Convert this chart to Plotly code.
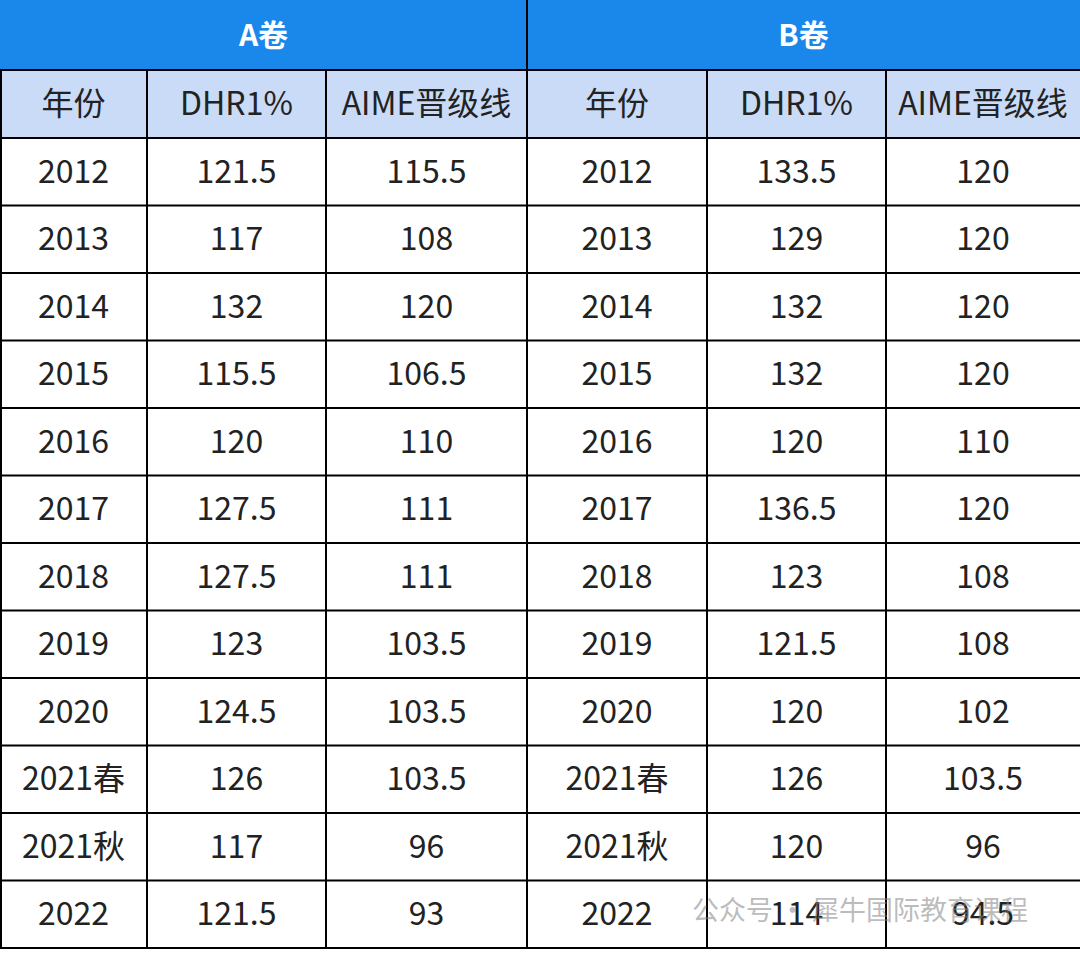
import plotly.graph_objects as go

groups = ["A卷", "B卷"]
col_headers = ["年份", "DHR1%", "AIME晋级线", "年份", "DHR1%", "AIME晋级线"]
years = ["2012", "2013", "2014", "2015", "2016", "2017", "2018", "2019", "2020", "2021春", "2021秋", "2022"]
a_dhr = ["121.5", "117", "132", "115.5", "120", "127.5", "127.5", "123", "124.5", "126", "117", "121.5"]
a_aime = ["115.5", "108", "120", "106.5", "110", "111", "111", "103.5", "103.5", "103.5", "96", "93"]
b_dhr = ["133.5", "129", "132", "132", "120", "136.5", "123", "121.5", "120", "126", "120", "114"]
b_aime = ["120", "120", "120", "120", "110", "120", "108", "108", "102", "103.5", "96", "94.5"]

W, H = 1080, 953
font = "Noto Sans CJK SC"
col_edges = [0, 147, 326, 527, 707, 886, 1080]
top_h, sub_h, row_h = 70, 68, 67.5
n = len(years)
row_edges = [top_h + sub_h + i * row_h for i in range(n + 1)]
dy = 3

fig = go.Figure()
shapes = []
shapes.append(dict(type="rect", x0=0, x1=W, y0=0, y1=top_h, fillcolor="#1A87EA", line_width=0, layer="below"))
shapes.append(dict(type="rect", x0=0, x1=W, y0=top_h, y1=top_h + sub_h, fillcolor="#C9DBF6", line_width=0, layer="below"))
ln = dict(color="black", width=2)
for y in [top_h, top_h + sub_h] + row_edges[1:]:
    shapes.append(dict(type="line", x0=0, x1=W, y0=y, y1=y, line=ln))
for x in col_edges[1:-1]:
    y0 = 0 if x == 527 else top_h
    shapes.append(dict(type="line", x0=x, x1=x, y0=y0, y1=row_edges[-1], line=ln))
shapes.append(dict(type="line", x0=1, x1=1, y0=top_h, y1=row_edges[-1], line=ln))

centers = [(col_edges[i] + col_edges[i + 1]) / 2 for i in range(6)]
fig.add_trace(go.Scatter(x=[527 / 2, (527 + W) / 2], y=[top_h / 2 + dy] * 2, mode="text",
                         text=[f"<b>{g}</b>" for g in groups],
                         textfont=dict(family=font, size=30, color="white"), hoverinfo="skip"))
fig.add_trace(go.Scatter(x=centers, y=[top_h + sub_h / 2 + dy] * 6, mode="text", text=col_headers,
                         textfont=dict(family=font, size=32, color="#222"), hoverinfo="skip"))
cols = [years, a_dhr, a_aime, years, b_dhr, b_aime]
for c, vals in enumerate(cols):
    fig.add_trace(go.Scatter(x=[centers[c]] * n,
                             y=[(row_edges[i] + row_edges[i + 1]) / 2 + dy for i in range(n)],
                             mode="text", text=vals,
                             textfont=dict(family=font, size=32, color="#222"), hoverinfo="skip"))

fig.add_annotation(x=860, y=908, text="公众号 · 犀牛国际教育课程", showarrow=False,
                   font=dict(family=font, size=27, color="rgba(130,130,130,0.55)"))
fig.update_layout(width=W, height=H, margin=dict(l=0, r=0, t=0, b=0),
                  paper_bgcolor="white", plot_bgcolor="white", showlegend=False,
                  shapes=shapes,
                  xaxis=dict(range=[0, W], visible=False, fixedrange=True),
                  yaxis=dict(range=[H, 0], visible=False, fixedrange=True))
fig.write_html("out.html", config={"displayModeBar": False, "staticPlot": True})
with open("out.html", encoding="utf-8") as f:
    html = f.read()
html = html.replace("<body>", '<body style="margin:0;overflow:hidden">', 1)
with open("out.html", "w", encoding="utf-8") as f:
    f.write(html)
